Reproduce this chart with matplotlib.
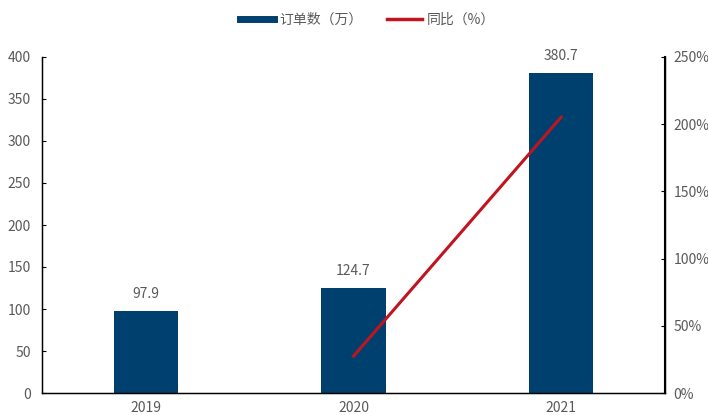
import matplotlib.pyplot as plt
from matplotlib.ticker import FuncFormatter
from matplotlib.lines import Line2D

plt.rcParams['font.family'] = ['Noto Sans CJK SC', 'DejaVu Sans']

years = ["2019", "2020", "2021"]
orders = [97.9, 124.7, 380.7]
yoy_years = ["2020", "2021"]
yoy = [27.4, 205.3]

bar_color = "#00406f"
line_color = "#c0141e"
text_color = "#595959"

fig = plt.figure(figsize=(7.08, 4.15), dpi=100)
ax = fig.add_axes([42 / 708, 22 / 415, 623 / 708, 336 / 415])
x = list(range(len(years)))
ax.bar(x, orders, width=0.31, color=bar_color, zorder=2)
for xi, v in zip(x, orders):
    ax.text(xi, v + 12, f"{v:.1f}", ha="center", va="bottom", fontsize=10, color=text_color)

ax.set_xlim(-0.5, 2.5)
ax.set_ylim(0, 400)
ax.set_yticks(range(0, 401, 50))
ax.set_xticks(x)
ax.set_xticklabels(years)
ax.tick_params(axis="y", direction="in", length=3, labelsize=10, labelcolor=text_color, pad=8)
ax.tick_params(axis="x", length=0, labelsize=10, labelcolor=text_color, pad=6)
ax.spines["top"].set_visible(False)
for s in ["left", "bottom", "right"]:
    ax.spines[s].set_color("black")
    ax.spines[s].set_linewidth(1)

ax2 = ax.twinx()
ax2.plot([years.index(y) for y in yoy_years], yoy, color=line_color, lw=2.2, zorder=3)
ax2.set_ylim(0, 250)
ax2.set_yticks(range(0, 251, 50))
ax2.yaxis.set_major_formatter(FuncFormatter(lambda v, p: f"{v:.0f}%"))
ax2.tick_params(axis="y", direction="in", length=3, labelsize=10, labelcolor=text_color, pad=6)
ax2.spines["top"].set_visible(False)
ax2.spines["right"].set_color("black")
ax2.spines["right"].set_linewidth(1.5)

handles = [Line2D([], [], color=bar_color, lw=5), Line2D([], [], color=line_color, lw=2.5)]
fig.legend(handles, ["订单数（万）", "同比（%）"], loc="upper center", bbox_to_anchor=(0.519, 1.0),
           ncol=2, frameon=False, fontsize=10, labelcolor=text_color,
           handlelength=2.5, handletextpad=0.35, columnspacing=1.8)

fig.savefig("out.png", dpi=100)
